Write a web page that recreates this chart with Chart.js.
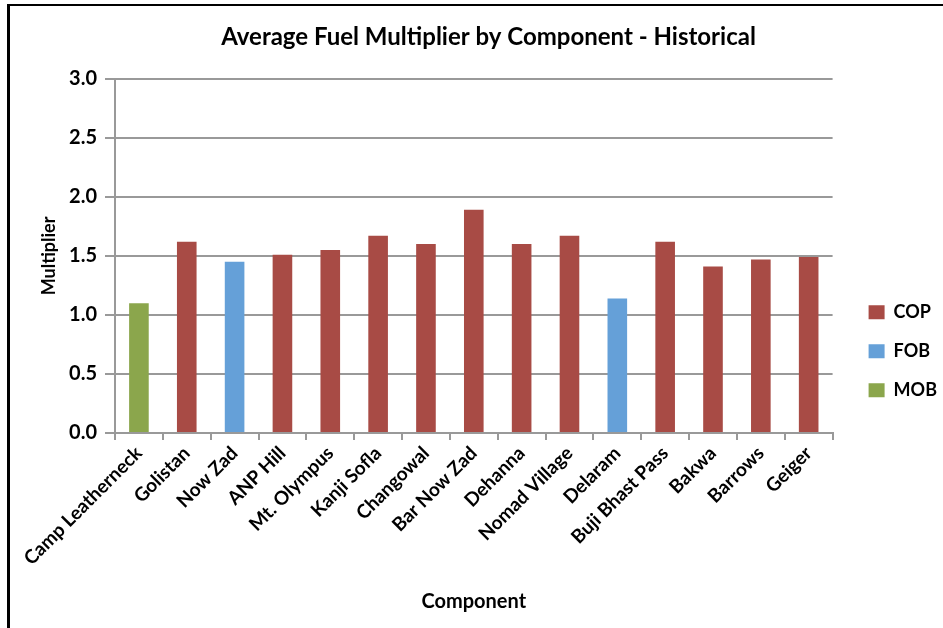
<!DOCTYPE html>
<html>
<head>
<meta charset="utf-8">
<script src="https://cdn.jsdelivr.net/npm/chart.js@4/dist/chart.umd.min.js"></script>
<style>
  html, body { margin: 0; padding: 0; background: #ffffff; }
  #wrap { position: relative; width: 943px; height: 628px; overflow: hidden; }
  #chart { position: absolute; left: 0; top: 0; }
  #frameTop { position: absolute; left: 7px; top: 4px; width: 936px; height: 2px; background: #000; }
  #frameLeft { position: absolute; left: 7px; top: 4px; width: 3px; height: 624px; background: #000; }
</style>
</head>
<body>
<div id="wrap">
  <canvas id="chart" width="943" height="628"></canvas>
  <div id="frameTop"></div>
  <div id="frameLeft"></div>
</div>
<script>
// Components and their average fuel multiplier
const categories = [
  'Camp Leatherneck', 'Golistan', 'Now Zad', 'ANP Hill', 'Mt. Olympus',
  'Kanji Sofla', 'Changowal', 'Bar Now Zad', 'Dehanna', 'Nomad Village',
  'Delaram', 'Buji Bhast Pass', 'Bakwa', 'Barrows', 'Geiger'
];
const multipliers = [1.10, 1.62, 1.45, 1.51, 1.55, 1.67, 1.60, 1.89, 1.60, 1.67, 1.14, 1.62, 1.41, 1.47, 1.49];
const componentTypes = ['MOB', 'COP', 'FOB', 'COP', 'COP', 'COP', 'COP', 'COP', 'COP', 'COP', 'FOB', 'COP', 'COP', 'COP', 'COP'];
const seriesNames = ['COP', 'FOB', 'MOB'];
const seriesColors = ['#A84B45', '#65A0D8', '#8BA64C'];
const yTicks = [0, 0.5, 1.0, 1.5, 2.0, 2.5, 3.0];

const FONT = 'Lato, "Open Sans", sans-serif';
const GRID = '#999999';

const datasets = seriesNames.map((name, i) => ({
  label: name,
  data: multipliers.map((v, j) => (componentTypes[j] === name ? v : null)),
  backgroundColor: seriesColors[i],
  borderWidth: 0,
  categoryPercentage: 0.41,
  barPercentage: 1.0
}));

new Chart(document.getElementById('chart'), {
  type: 'bar',
  data: { labels: categories, datasets },
  options: {
    responsive: false,
    animation: false,
    layout: { padding: { left: 30, right: -4, top: 10, bottom: 8 } },
    plugins: {
      title: {
        display: true,
        text: 'Average Fuel Multiplier by Component - Historical',
        color: '#000',
        font: { family: FONT, size: 24, weight: 'bold' },
        padding: { top: 13, bottom: 27 }
      },
      legend: {
        position: 'right',
        align: 'center',
        title: { display: true, text: ' ', font: { size: 12 }, padding: { top: 58, bottom: 0 } },
        labels: {
          color: '#000',
          font: { family: FONT, size: 18, weight: 'bold' },
          boxWidth: 16,
          boxHeight: 14,
          padding: 21
        }
      },
      tooltip: { enabled: false }
    },
    scales: {
      x: {
        stacked: true,
        border: { display: true, color: GRID, width: 2 },
        grid: { display: true, drawOnChartArea: false, drawTicks: true, tickLength: 7, color: GRID, lineWidth: 2, offset: true },
        ticks: {
          color: '#000',
          font: { family: FONT, size: 19, weight: 'bold' },
          minRotation: 45,
          maxRotation: 45,
          autoSkip: false,
          padding: 2
        },
        title: {
          display: true,
          text: 'Component',
          color: '#000',
          font: { family: FONT, size: 20, weight: 'bold' },
          padding: { top: 0, bottom: 6 }
        },
        afterFit: (scale) => { scale.height = 628 - 433 - 8; }
      },
      y: {
        min: 0,
        max: 3,
        afterBuildTicks: (scale) => { scale.ticks = yTicks.map(v => ({ value: v })); },
        border: { display: true, color: GRID, width: 2 },
        grid: { color: GRID, lineWidth: 2, tickLength: 10 },
        ticks: {
          color: '#000',
          font: { family: FONT, size: 20, weight: 'bold' },
          padding: 8,
          callback: (v) => Number(v).toFixed(1)
        },
        title: {
          display: true,
          text: 'Multiplier',
          color: '#000',
          font: { family: FONT, size: 18, weight: 'bold' },
          padding: { top: 8, bottom: 0 }
        },
        afterFit: (scale) => { scale.width = 115 - 30; }
      },
      // empty right-hand axis keeping a gap between the plot and the legend
      gap: {
        type: 'linear',
        position: 'right',
        display: true,
        grid: { display: false, drawTicks: false },
        border: { display: false },
        ticks: { display: false },
        afterFit: (scale) => { scale.width = 15; }
      }
    }
  }
});
</script>
</body>
</html>
